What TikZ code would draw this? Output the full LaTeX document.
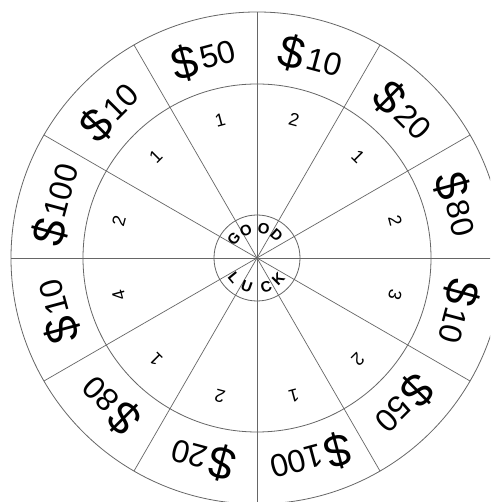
\documentclass[tikz,border=0pt]{standalone}
\usepackage{fontspec}
\setmainfont{Liberation Sans}
\newcommand\bigdol{\raisebox{-4pt}{\fontsize{46}{46}\selectfont\$}\hspace{3pt}}
\begin{document}
\begin{tikzpicture}[x=1pt,y=1pt,
  ring/.style={draw=black!60, line width=0.8pt},
  spoke/.style={draw=black!60, line width=0.7pt},
  prize/.style={font=\fontsize{32}{32}\selectfont, inner sep=0pt},
  num/.style={font=\fontsize{18}{18}\selectfont, inner sep=0pt},
  lett/.style={font=\fontsize{15}{15}\selectfont\bfseries, inner sep=0pt}]
\useasboundingbox (0,0) rectangle (490,502);
\fill[white] (0,0) rectangle (490,502);
\clip (0,0) rectangle (490,502);
\coordinate (O) at (257,244);
\draw[ring] (O) circle (246);
\draw[ring] (O) circle (174);
\draw[ring] (O) circle (43);
\foreach \a in {0,30,...,330} \draw[spoke] (O) -- ([shift={(\a:246)}]O);
\foreach \a/\t [count=\i] in {105/50,75/10,45/20,15/80,-15/10,-45/50,-75/100,-105/20,-135/80,-165/10,165/100,135/10}
  \node[prize, rotate=\a-90] (p\i) at ([shift={(\a:207)}]O) {\bigdol\t};
\foreach \a/\t [count=\i] in {105/1,75/2,45/1,15/2,-15/3,-45/2,-75/1,-105/2,-135/1,-165/4,165/2,135/1}
  \node[num, rotate=\a-90] (n\i) at ([shift={(\a:143)}]O) {\t};
\foreach \a/\t [count=\i] in {140/G,112/O,77/O,49/D}
  \node[lett, rotate=\a-90] (g\i) at ([shift={(\a:30)}]O) {\t};
\foreach \a/\t [count=\i] in {-140/L,-110/U,-72/C,-45/K}
  \node[lett, rotate=\a+90] (l\i) at ([shift={(\a:30)}]O) {\t};
\end{tikzpicture}
\end{document}
